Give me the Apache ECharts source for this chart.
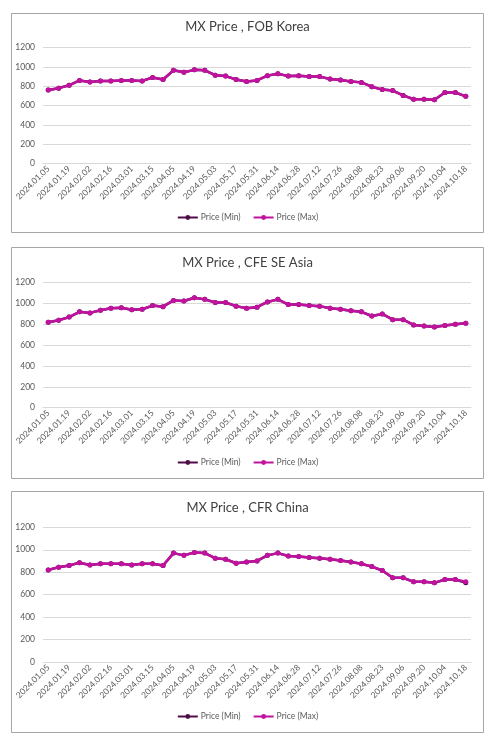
<!DOCTYPE html>
<html>
<head>
<meta charset="utf-8">
<script src="https://cdn.jsdelivr.net/npm/echarts@6/dist/echarts.min.js"></script>
<style>
html,body{margin:0;padding:0;background:#fff;}
#c{width:495px;height:750px;}
</style>
</head>
<body>
<div id="c"></div>
<script>
const dates = ['2024.01.05','2024.01.12','2024.01.19','2024.01.26','2024.02.02','2024.02.09','2024.02.16','2024.02.23','2024.03.01','2024.03.08','2024.03.15','2024.03.29','2024.04.05','2024.04.12','2024.04.19','2024.04.26','2024.05.03','2024.05.10','2024.05.17','2024.05.24','2024.05.31','2024.06.07','2024.06.14','2024.06.21','2024.06.28','2024.07.05','2024.07.12','2024.07.19','2024.07.26','2024.08.02','2024.08.08','2024.08.16','2024.08.23','2024.08.30','2024.09.06','2024.09.13','2024.09.20','2024.09.27','2024.10.04','2024.10.11','2024.10.18'];

const titles = ['MX Price , FOB Korea', 'MX Price , CFE SE Asia', 'MX Price , CFR China'];
const seriesNames = ['Price (Min)', 'Price (Max)'];
const yTicks = [0, 200, 400, 600, 800, 1000, 1200];

const koreaMin = [760,780,810,860,845,855,855,860,860,855,890,870,965,945,970,965,915,905,870,850,860,910,930,905,910,900,900,875,865,850,840,795,765,755,705,665,665,660,735,735,695];
const koreaMax = [760,780,810,860,845,855,855,860,860,855,890,870,965,945,970,965,915,905,870,850,860,910,930,905,910,900,900,875,865,850,840,795,765,755,705,665,665,660,735,735,695];

const seAsiaMin = [820,840,870,920,910,935,955,960,940,945,980,970,1030,1025,1055,1040,1010,1010,975,955,965,1015,1040,990,990,980,975,955,945,930,920,880,900,845,845,795,785,775,790,800,810];
const seAsiaMax = [820,840,870,920,910,935,955,960,940,945,980,970,1030,1025,1055,1040,1010,1010,975,955,965,1015,1040,990,990,980,975,955,945,930,920,880,900,845,845,795,785,775,790,800,810];

const chinaMin = [820,845,860,885,865,875,875,875,865,875,875,860,970,950,975,970,925,915,880,890,900,950,970,945,940,930,925,915,905,890,875,850,815,750,750,715,715,705,735,735,705];
const chinaMax = [820,845,860,885,865,875,875,875,865,875,875,860,970,950,975,970,925,915,880,890,900,950,970,945,940,930,925,915,905,890,875,850,815,750,750,715,715,705,735,735,715];

const panelData = [[koreaMin, koreaMax], [seAsiaMin, seAsiaMax], [chinaMin, chinaMax]];

// layout (pixels)
const boxes = [{y:13,h:219},{y:247,h:231},{y:491,h:241}];
const grids = [{top:47.7,h:115.6},{top:282.7,h:125},{top:527.3,h:134.7}];
const titleTops = [20, 256, 501];
const legendTops = [213, 458, 712];

const FONT = 'Lato';
const MIN_COLOR = '#4e0d48';
const MAX_COLOR = '#c0129e';
const TXT = '#595959';

const option = {
  animation: false,
  backgroundColor: '#fff',
  textStyle: {fontFamily: FONT},
  graphic: boxes.map(b => ({
    type: 'rect', shape: {x: 11.5, y: b.y + 0.5, width: 472, height: b.h},
    style: {fill: 'none', stroke: '#a6a6a6', lineWidth: 1}, silent: true, z: -1
  })),
  title: titles.map((t, i) => ({
    text: t, left: 'center', top: titleTops[i], padding: 0,
    textStyle: {fontFamily: FONT, fontSize: 13, fontWeight: 'normal', color: '#404040'}
  })),
  legend: legendTops.map((lt, i) => ({
    data: seriesNames.map(n => n + '\u200b'.repeat(i)),
    left: 'center', top: lt, padding: 0,
    itemWidth: 20, itemHeight: 6, itemGap: 12,
    formatter: n => n.replace(/\u200b/g, ''),
    textStyle: {fontFamily: FONT, fontSize: 8.5, color: TXT, padding: [0,0,0,-2]}
  })),
  grid: grids.map(g => ({left: 43, right: 24, top: g.top, height: g.h, containLabel: false})),
  xAxis: grids.map((g, i) => ({
    type: 'category', gridIndex: i, data: dates, boundaryGap: true,
    axisLine: {lineStyle: {color: '#d9d9d9'}},
    axisTick: {show: false},
    axisLabel: {interval: 1, rotate: 45, fontSize: 8.5, color: TXT, fontFamily: FONT, margin: 4}
  })),
  yAxis: grids.map((g, i) => ({
    type: 'value', gridIndex: i, min: yTicks[0], max: yTicks[yTicks.length - 1], interval: yTicks[1] - yTicks[0],
    axisLine: {show: false}, axisTick: {show: false},
    axisLabel: {fontSize: 8.5, color: TXT, fontFamily: FONT, margin: 8, formatter: v => String(v)},
    splitLine: {lineStyle: {color: '#d9d9d9', width: 1}}
  })),
  series: []
};

panelData.forEach((pair, i) => {
  pair.forEach((vals, k) => {
    option.series.push({
      name: seriesNames[k] + '\u200b'.repeat(i),
      type: 'line', xAxisIndex: i, yAxisIndex: i, data: vals,
      symbol: 'circle', symbolSize: 5,
      lineStyle: {width: 2.5, color: k === 0 ? MIN_COLOR : MAX_COLOR},
      itemStyle: {color: k === 0 ? MIN_COLOR : MAX_COLOR},
      z: 2 + k
    });
  });
});

const chart = echarts.init(document.getElementById('c'), null, {renderer: 'canvas'});
chart.setOption(option);
</script>
</body>
</html>
